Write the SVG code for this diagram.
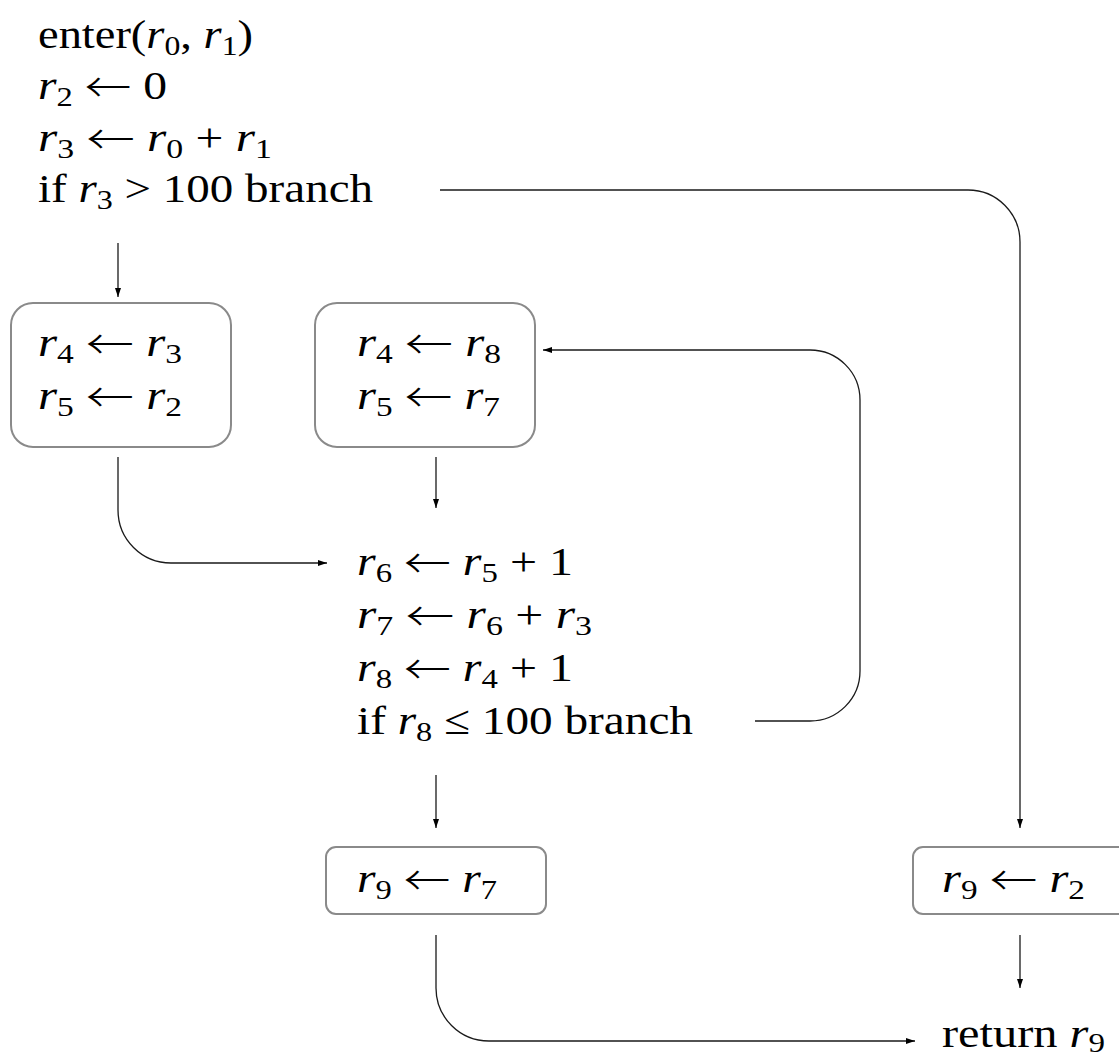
<svg xmlns="http://www.w3.org/2000/svg" width="1119" height="1059" viewBox="0 0 1119 1059">
<style>
text{font-family:"Liberation Serif","Times New Roman",serif;font-size:41px;fill:#000}
.i{font-style:italic}
.s{font-size:28px}
.a{font-family:"Noto Sans CJK JP","Noto Sans CJK SC",sans-serif;font-size:40px;font-weight:300}
.box{fill:#fff;stroke:#8a8a8a;stroke-width:2}
.edge{fill:none;stroke:#1a1a1a;stroke-width:1.3;marker-end:url(#ah)}
</style>
<defs>
<marker id="ah" viewBox="0 0 9 6" refX="9" refY="3" markerWidth="9" markerHeight="6" orient="auto" markerUnits="userSpaceOnUse"><path d="M0,0 L9,3 L0,6 z" fill="#000"/></marker>
</defs>
<rect width="1119" height="1059" fill="#fff"/>
<g id="connectors">
<path class="edge" d="M118,243 V297"/>
<path class="edge" d="M440,190 H968 A52,52 0 0 1 1020,242 V828"/>
<path class="edge" d="M118,457 V510 A53,53 0 0 0 171,563 H327"/>
<path class="edge" d="M436,457 V508"/>
<path class="edge" d="M755,721 H810 A50,50 0 0 0 860,671 V400 A50,50 0 0 0 810,350 H543"/>
<path class="edge" d="M436,775 V828"/>
<path class="edge" d="M436,935 V988 A53,53 0 0 0 489,1041 H915"/>
<path class="edge" d="M1020,935 V988"/>
</g>
<g id="entry">
<text x="38" y="48" textLength="215" lengthAdjust="spacingAndGlyphs">enter(<tspan class="i">r</tspan><tspan class="s" dy="7">0</tspan><tspan dy="-7">, </tspan><tspan class="i">r</tspan><tspan class="s" dy="7">1</tspan><tspan dy="-7">)</tspan></text>
<text x="38" y="99" textLength="129" lengthAdjust="spacingAndGlyphs"><tspan class="i">r</tspan><tspan class="s" dy="7">2</tspan><tspan dy="-7"> </tspan><tspan class="a" dy="3">←</tspan><tspan dy="-3"> 0</tspan></text>
<text x="38" y="151" textLength="234" lengthAdjust="spacingAndGlyphs"><tspan class="i">r</tspan><tspan class="s" dy="7">3</tspan><tspan dy="-7"> </tspan><tspan class="a" dy="3">←</tspan><tspan dy="-3"> </tspan><tspan class="i">r</tspan><tspan class="s" dy="7">0</tspan><tspan dy="-7"> + </tspan><tspan class="i">r</tspan><tspan class="s" dy="7">1</tspan></text>
<text x="38" y="202" textLength="335" lengthAdjust="spacingAndGlyphs">if <tspan class="i">r</tspan><tspan class="s" dy="7">3</tspan><tspan dy="-7"> &gt; 100 branch</tspan></text>
</g>
<g id="init">
<rect class="box" x="11" y="303" width="220" height="144" rx="22"/>
<text x="38" y="356" textLength="144" lengthAdjust="spacingAndGlyphs"><tspan class="i">r</tspan><tspan class="s" dy="7">4</tspan><tspan dy="-7"> </tspan><tspan class="a" dy="3">←</tspan><tspan dy="-3"> </tspan><tspan class="i">r</tspan><tspan class="s" dy="7">3</tspan></text>
<text x="38" y="409" textLength="144" lengthAdjust="spacingAndGlyphs"><tspan class="i">r</tspan><tspan class="s" dy="7">5</tspan><tspan dy="-7"> </tspan><tspan class="a" dy="3">←</tspan><tspan dy="-3"> </tspan><tspan class="i">r</tspan><tspan class="s" dy="7">2</tspan></text>
</g>
<g id="backedge">
<rect class="box" x="315" y="303" width="220" height="144" rx="22"/>
<text x="357" y="356" textLength="144" lengthAdjust="spacingAndGlyphs"><tspan class="i">r</tspan><tspan class="s" dy="7">4</tspan><tspan dy="-7"> </tspan><tspan class="a" dy="3">←</tspan><tspan dy="-3"> </tspan><tspan class="i">r</tspan><tspan class="s" dy="7">8</tspan></text>
<text x="357" y="409" textLength="143" lengthAdjust="spacingAndGlyphs"><tspan class="i">r</tspan><tspan class="s" dy="7">5</tspan><tspan dy="-7"> </tspan><tspan class="a" dy="3">←</tspan><tspan dy="-3"> </tspan><tspan class="i">r</tspan><tspan class="s" dy="7">7</tspan></text>
</g>
<g id="loop">
<text x="357" y="575" textLength="216" lengthAdjust="spacingAndGlyphs"><tspan class="i">r</tspan><tspan class="s" dy="7">6</tspan><tspan dy="-7"> </tspan><tspan class="a" dy="3">←</tspan><tspan dy="-3"> </tspan><tspan class="i">r</tspan><tspan class="s" dy="7">5</tspan><tspan dy="-7"> + 1</tspan></text>
<text x="357" y="628" textLength="235" lengthAdjust="spacingAndGlyphs"><tspan class="i">r</tspan><tspan class="s" dy="7">7</tspan><tspan dy="-7"> </tspan><tspan class="a" dy="3">←</tspan><tspan dy="-3"> </tspan><tspan class="i">r</tspan><tspan class="s" dy="7">6</tspan><tspan dy="-7"> + </tspan><tspan class="i">r</tspan><tspan class="s" dy="7">3</tspan></text>
<text x="357" y="681" textLength="216" lengthAdjust="spacingAndGlyphs"><tspan class="i">r</tspan><tspan class="s" dy="7">8</tspan><tspan dy="-7"> </tspan><tspan class="a" dy="3">←</tspan><tspan dy="-3"> </tspan><tspan class="i">r</tspan><tspan class="s" dy="7">4</tspan><tspan dy="-7"> + 1</tspan></text>
<text x="357" y="734" textLength="336" lengthAdjust="spacingAndGlyphs">if <tspan class="i">r</tspan><tspan class="s" dy="7">8</tspan><tspan dy="-7"> ≤ 100 branch</tspan></text>
</g>
<g id="exit-loop">
<rect class="box" x="326" y="847" width="220" height="67" rx="10"/>
<text x="357" y="892" textLength="140" lengthAdjust="spacingAndGlyphs"><tspan class="i">r</tspan><tspan class="s" dy="7">9</tspan><tspan dy="-7"> </tspan><tspan class="a" dy="3">←</tspan><tspan dy="-3"> </tspan><tspan class="i">r</tspan><tspan class="s" dy="7">7</tspan></text>
</g>
<g id="exit-early">
<rect class="box" x="913" y="847" width="220" height="67" rx="10"/>
<text x="942" y="892" textLength="143" lengthAdjust="spacingAndGlyphs"><tspan class="i">r</tspan><tspan class="s" dy="7">9</tspan><tspan dy="-7"> </tspan><tspan class="a" dy="3">←</tspan><tspan dy="-3"> </tspan><tspan class="i">r</tspan><tspan class="s" dy="7">2</tspan></text>
</g>
<g id="return">
<text x="942" y="1047" textLength="163" lengthAdjust="spacingAndGlyphs">return <tspan class="i">r</tspan><tspan class="s" dy="5">9</tspan></text>
</g>
</svg>
